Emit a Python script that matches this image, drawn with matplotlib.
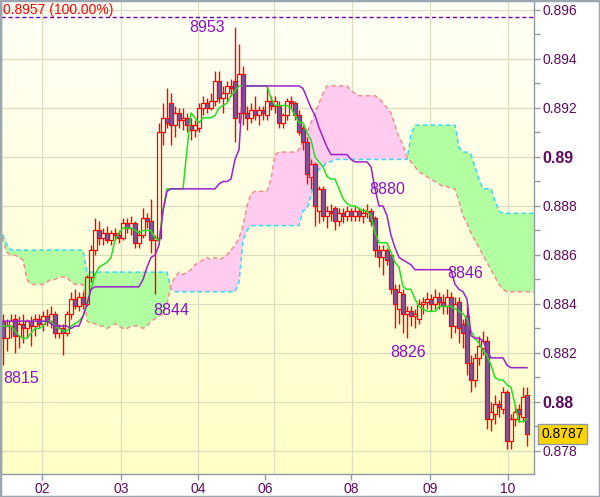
import numpy as np
import matplotlib
matplotlib.use("Agg")
import matplotlib.pyplot as plt
import matplotlib.transforms as mtransforms
from matplotlib.patches import Rectangle
from matplotlib.collections import LineCollection
from matplotlib.colors import LinearSegmentedColormap
from matplotlib.ticker import MultipleLocator

PIP = 1e-4

opens = [8833,8826,8831,8834,8827,8832,8830,8833,8831,8834,
         8832,8835,8833,8836,8828,8830,8828,8836,8842,8839,
         8843,8840,8851,8862,8870,8867,8869,8866,8869,8868,
         8867,8873,8871,8873,8865,8868,8875,8874,8866,8867,
         8910,8916,8922,8913,8918,8915,8916,8913,8911,8912,
         8920,8922,8920,8923,8931,8924,8926,8929,8931,8918,
         8934,8918,8916,8919,8917,8919,8917,8923,8921,8921,
         8914,8917,8923,8922,8917,8912,8906,8892,8897,8878,
         8887,8876,8878,8879,8874,8877,8876,8878,8876,8878,
         8876,8877,8878,8875,8862,8859,8862,8860,8846,8838,
         8844,8836,8837,8835,8834,8840,8841,8842,8840,8843,
         8841,8839,8843,8831,8841,8832,8835,8816,8809,8818,
         8822,8825,8793,8795,8799,8797,8804,8784,8793,8797,
         8794,8803]
highs = [8836,8834,8836,8836,8835,8836,8834,8835,8836,8836,
         8837,8838,8839,8837,8832,8832,8837,8845,8846,8845,
         8845,8852,8864,8875,8874,8871,8872,8870,8871,8870,
         8875,8875,8876,8874,8870,8879,8877,8883,8868,8914,
         8922,8928,8926,8921,8920,8920,8918,8916,8915,8922,
         8925,8924,8926,8935,8935,8929,8931,8932,8953,8946,
         8937,8921,8922,8925,8921,8921,8929,8925,8925,8923,
         8918,8924,8925,8923,8919,8913,8908,8899,8898,8888,
         8888,8880,8881,8880,8879,8879,8880,8879,8880,8879,
         8879,8881,8879,8876,8864,8864,8863,8861,8848,8848,
         8846,8839,8839,8838,8842,8843,8845,8844,8846,8845,
         8844,8846,8845,8843,8843,8834,8840,8819,8820,8827,
         8829,8827,8800,8803,8801,8806,8805,8795,8799,8799,
         8806,8806]
lows = [8815,8821,8826,8820,8822,8824,8826,8823,8827,8830,
        8829,8831,8830,8826,8826,8819,8827,8834,8838,8837,
        8838,8839,8849,8860,8864,8864,8865,8864,8866,8865,
        8866,8869,8868,8863,8863,8867,8871,8861,8844,8866,
        8905,8912,8905,8908,8912,8911,8910,8907,8908,8910,
        8917,8918,8919,8921,8922,8918,8923,8925,8906,8914,
        8913,8911,8914,8915,8913,8915,8915,8919,8918,8912,
        8912,8915,8920,8915,8909,8903,8889,8887,8872,8873,
        8874,8871,8874,8870,8872,8873,8874,8874,8874,8874,
        8873,8875,8872,8859,8855,8852,8856,8844,8830,8832,
        8828,8826,8831,8830,8832,8836,8838,8837,8838,8838,
        8836,8836,8826,8828,8824,8822,8811,8804,8806,8815,
        8819,8789,8788,8791,8794,8795,8781,8781,8790,8792,
        8792,8782]
closes = [8826,8831,8833,8827,8832,8830,8833,8831,8834,8832,
          8835,8833,8836,8828,8830,8828,8836,8842,8839,8843,
          8840,8851,8862,8870,8867,8869,8866,8869,8868,8867,
          8873,8871,8873,8865,8868,8875,8874,8866,8867,8910,
          8916,8914,8913,8918,8915,8916,8913,8911,8913,8920,
          8922,8920,8923,8931,8924,8926,8929,8928,8916,8934,
          8918,8916,8919,8917,8919,8918,8923,8921,8923,8914,
          8917,8923,8922,8917,8910,8906,8893,8897,8880,8887,
          8876,8878,8877,8874,8877,8876,8878,8876,8878,8876,
          8877,8878,8874,8862,8859,8862,8858,8846,8840,8845,
          8836,8837,8835,8836,8840,8841,8842,8840,8843,8841,
          8839,8843,8831,8840,8830,8828,8816,8809,8818,8823,
          8825,8793,8796,8799,8798,8804,8784,8793,8796,8795,
          8802,8787]

tenkan = [8831,8831,8831,8829,8827,8826,8826,8828,8830,8830,
          8831,8833,8833,8831,8830,8829,8829,8831,8832,8833,
          8835,8840,8846,8852,8855,8856,8857,8859,8866,8869,
          8871,8871,8871,8870,8869,8870,8870,8870,8867,8866,
          8878,8887,8887,8887,8887,8887,8903,8918,8916,8914,
          8916,8916,8916,8917,8920,8921,8922,8925,8927,8929,
          8929,8929,8929,8929,8929,8929,8929,8924,8921,8921,
          8921,8921,8920,8917,8914,8914,8910,8907,8900,8898,
          8896,8892,8891,8891,8887,8883,8881,8880,8880,8879,
          8878,8878,8876,8869,8865,8865,8865,8861,8857,8855,
          8847,8846,8846,8842,8839,8838,8837,8837,8837,8839,
          8839,8839,8839,8838,8837,8836,8834,8829,8826,8824,
          8821,8819,8815,8810,8809,8809,8807,8806,8799,8792,
          8792,8793]
kijun = [8833,8833,8833,8833,8833,8833,8833,8833,8833,8833,
         8833,8833,8832,8831,8831,8831,8831,8830,8831,8831,
         8835,8840,8846,8847,8847,8847,8847,8847,8847,8847,
         8847,8847,8847,8847,8847,8850,8855,8859,8860,8864,
         8878,8886,8887,8887,8887,8887,8887,8887,8887,8887,
         8887,8887,8887,8887,8889,8890,8890,8891,8899,8903,
         8929,8929,8929,8929,8929,8929,8929,8929,8929,8929,
         8929,8929,8929,8929,8929,8928,8924,8920,8917,8912,
         8908,8904,8901,8901,8901,8901,8901,8899,8898,8898,
         8898,8898,8896,8887,8880,8880,8876,8868,8863,8859,
         8858,8857,8856,8854,8854,8854,8854,8854,8854,8854,
         8854,8854,8854,8848,8846,8845,8842,8827,8826,8826,
         8825,8821,8818,8818,8818,8818,8815,8814,8814,8814,
         8814,8814]

cloud_start = -1
senkou_a = [8871,8868,8864,8862,8862,8862,8862,8862,8862,8862,
            8862,8862,8862,8862,8862,8862,8862,8862,8862,8862,
            8862,8862,8853,8853,8853,8853,8853,8853,8853,8853,
            8853,8853,8853,8853,8853,8853,8853,8853,8853,8853,
            8853,8853,8853,8846,8845,8845,8845,8845,8845,8845,
            8845,8845,8845,8845,8845,8845,8845,8845,8845,8845,
            8849,8866,8870,8872,8872,8872,8872,8872,8872,8872,
            8872,8872,8872,8872,8872,8872,8878,8879,8884,8893,
            8895,8896,8898,8898,8899,8899,8899,8899,8899,8899,
            8899,8899,8899,8899,8899,8899,8899,8899,8899,8899,
            8899,8899,8899,8909,8913,8913,8913,8913,8913,8913,
            8913,8913,8913,8913,8913,8904,8902,8902,8901,8896,
            8891,8887,8887,8887,8882,8878,8877,8877,8877,8877,
            8877,8877,8877,8877,8877]
senkou_b = [8870,8866,8861,8860,8860,8859,8858,8850,8848,8848,
            8848,8848,8849,8850,8850,8851,8851,8851,8849,8848,
            8848,8848,8833,8832,8832,8831,8831,8830,8831,8832,
            8831,8830,8830,8831,8831,8831,8830,8831,8833,8834,
            8835,8836,8840,8848,8851,8853,8852,8853,8854,8856,
            8857,8858,8859,8858,8859,8858,8859,8860,8862,8864,
            8867,8872,8880,8885,8886,8886,8886,8886,8891,8901,
            8902,8902,8902,8902,8902,8903,8907,8910,8914,8918,
            8922,8926,8929,8929,8929,8929,8929,8929,8927,8926,
            8925,8925,8925,8925,8925,8924,8922,8920,8918,8913,
            8908,8905,8900,8898,8896,8894,8893,8892,8891,8890,
            8889,8888,8888,8887,8887,8882,8876,8873,8869,8866,
            8863,8860,8857,8854,8851,8848,8846,8845,8845,8845,
            8845,8845,8845,8845,8845]

day_labels = ["02", "03", "04", "06", "08", "09", "10"]
day_pos = [9.75, 29.5, 48.75, 65.5, 87.0, 106.75, 126.25]
grid_pos = [9.75, 29.5, 48.75, 67.75, 87.25, 106.75, 126.25]
price_ticks = [0.896, 0.894, 0.892, 0.890, 0.888, 0.886, 0.884, 0.882, 0.880, 0.878]
price_labels = ["0.896", "0.894", "0.892", "0.89", "0.888", "0.886", "0.884", "0.882", "0.88", "0.878"]
bold_labels = ["0.89", "0.88"]

# extreme labels: (value in pips, bar index, pixel offset x, pixel offset y, ha)
mark_values = [8953, 8844, 8815, 8880, 8846, 8826]
mark_bars = [58, 38, 0, 91, 111, 101]
mark_offsets = [(-10, 0, "right"), (-2, -16, "left"), (0, -13, "left"),
                (2, 16, "left"), (0, 16, "left"), (-17, -14, "left")]

top_level = 0.8957
last_price = 0.8787

plt.rcParams['font.family'] = ['Liberation Sans', 'DejaVu Sans']

fig = plt.figure(figsize=(6.0, 4.97), dpi=100)
fig.patch.set_facecolor('white')
ax = fig.add_axes([1/600, 23/497, 533/600, 473/497])

XMIN, XMAX = -0.5, 132.75
YMIN, YMAX = 0.877061, 0.896367

# background gradient
grad = np.linspace(0, 1, 256).reshape(-1, 1)
cmap = LinearSegmentedColormap.from_list('bg', ['#FFFFF6', '#FFFFC6'])
ax.imshow(grad, extent=[XMIN, XMAX, YMIN, YMAX], aspect='auto', cmap=cmap,
          origin='upper', zorder=0, interpolation='bilinear')

grid_c = '#DDDDC2'
for g in grid_pos:
    ax.axvline(g, color=grid_c, lw=0.9, zorder=0.5)
for t in price_ticks:
    ax.axhline(t, color=grid_c, lw=0.9, zorder=0.5)

# Ichimoku cloud
xc = np.arange(len(senkou_a)) + cloud_start
a = np.array(senkou_a) * PIP
b = np.array(senkou_b) * PIP
ax.fill_between(xc, a, b, where=a >= b, interpolate=True, facecolor='#B2FFA2', lw=0, zorder=1)
ax.fill_between(xc, a, b, where=a < b, interpolate=True, facecolor='#FFCCF0', lw=0, zorder=1)
ax.plot(xc, a, color='#3AD8EE', lw=1.1, ls=(0, (3, 2)), zorder=1.5)
ax.plot(xc, b, color='#F0908C', lw=1.1, ls=(0, (3, 2)), zorder=1.5)

# candles
o = np.array(opens) * PIP
h = np.array(highs) * PIP
l = np.array(lows) * PIP
c = np.array(closes) * PIP
n = len(c)
xb = np.arange(n)
segs = []
for i in range(n):
    top = max(o[i], c[i])
    bot = min(o[i], c[i])
    segs.append([(xb[i], max(h[i], top)), (xb[i], top)])
    segs.append([(xb[i], bot), (xb[i], min(l[i], bot))])
ax.add_collection(LineCollection(segs, colors='#FF0000', linewidths=1.0, zorder=3))
bw = 0.8
for i in range(n):
    top = max(o[i], c[i])
    bot = min(o[i], c[i])
    if top - bot < 1e-9:
        ax.plot([xb[i] - bw/2, xb[i] + bw/2], [top, top], color='#FF0000', lw=1.0, zorder=3)
        continue
    fc = '#6C5AAA' if c[i] < o[i] else 'none'
    ax.add_patch(Rectangle((xb[i] - bw/2, bot), bw, top - bot, facecolor=fc,
                           edgecolor='#FF0000', lw=0.9, zorder=3))

# tenkan / kijun
ax.plot(xb, np.array(tenkan) * PIP, color='#22E022', lw=1.1, zorder=4)
ax.plot(xb, np.array(kijun) * PIP, color='#9A22CC', lw=1.1, zorder=4)

# top level line and label
ax.axhline(top_level, color='#7000B8', lw=1.0, ls=(0, (3, 2)), zorder=2)
blend = mtransforms.blended_transform_factory(ax.transAxes, ax.transData)
ax.annotate(f"{top_level:.4f} (100.00%)", xy=(0, top_level), xycoords=blend,
            xytext=(2, 3), textcoords='offset pixels', ha='left', va='baseline',
            color='#FF0000', fontsize=10, zorder=6)

# extreme labels
for v, bi, (dx, dy, ha) in zip(mark_values, mark_bars, mark_offsets):
    ax.annotate(str(v), xy=(bi, v * PIP), xytext=(dx, dy), textcoords='offset pixels',
                ha=ha, va='center', color='#8A10CC', fontsize=11.5, zorder=6)

ax.set_xlim(XMIN, XMAX)
ax.set_ylim(YMIN, YMAX)

# axes styling
spine_c = '#8F9AA3'
for s in ['left', 'bottom', 'right']:
    ax.spines[s].set_color(spine_c)
    ax.spines[s].set_linewidth(1.0)
ax.spines['top'].set_visible(False)

ax.yaxis.tick_right()
ax.set_yticks(price_ticks, price_labels)
ax.yaxis.set_minor_locator(MultipleLocator(0.001))
ax.tick_params(axis='y', which='both', direction='out', length=4, width=1,
               color=spine_c, labelsize=10, labelcolor='#5E0A5E', pad=2)
for lab in ax.get_yticklabels():
    if lab.get_text() in bold_labels:
        lab.set_fontweight('bold')
        lab.set_fontsize(11.5)

ax.set_xticks(day_pos, day_labels)
ax.tick_params(axis='x', direction='out', length=4, width=1, color=spine_c,
               labelsize=10, labelcolor='#5E0A5E', pad=2)

# last price box
ax.annotate(f"{last_price:.4f}", xy=(1, last_price), xycoords=blend,
            xytext=(7, 0), textcoords='offset pixels', ha='left', va='center',
            color='black', fontsize=10, annotation_clip=False, zorder=7,
            bbox=dict(boxstyle='square,pad=0.22', fc='#FFD400', ec='#8F9AA3', lw=1))

# figure border
fig.add_artist(Rectangle((0, 0), 1, 1, transform=fig.transFigure, fill=False,
                         edgecolor='#9AA6B0', lw=2.5))

fig.savefig('out.png', dpi=100)
